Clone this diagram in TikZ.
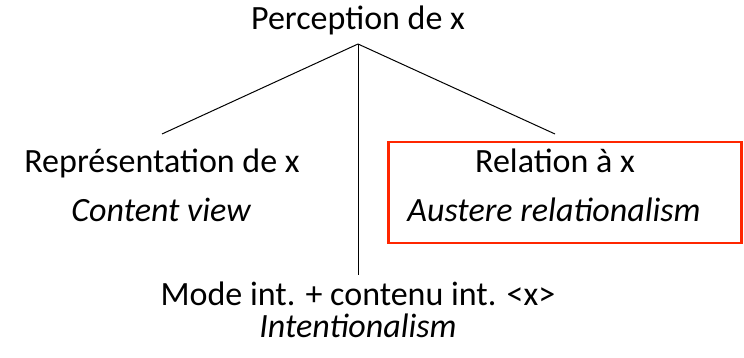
\documentclass[tikz,border=0pt]{standalone}
\usepackage{fontspec}
\setmainfont{Carlito}
\definecolor{boxred}{RGB}{255,38,0}
\begin{document}
\begin{tikzpicture}[x=1pt,y=-1pt,
  txt/.style={anchor=base, inner sep=0pt, font=\fontsize{34}{40}\selectfont},
  itxt/.style={txt, font=\fontsize{34}{40}\selectfont\itshape}]
\useasboundingbox (0,0) rectangle (744,358);
\node[draw=boxred, line width=2.6pt, minimum width=353pt, minimum height=101pt, inner sep=0pt] (box) at (565,192.5) {};

\node[txt] (perc) at (358,30) {Perception de x};
\node[txt] (repr) at (162,173) {Représentation de x};
\node[itxt] (cont) at (161,222) {Content view};
\node[txt] (rel) at (555,173) {Relation à x};
\node[itxt] (aust) at (554,222) {Austere relationalism};
\node[txt] (mode) at (358,305) {Mode int. + contenu int. <x>};
\node[itxt] (intent) at (358,337) {Intentionalism};

\coordinate (top) at (358,44);
\coordinate (l) at (162,134);
\coordinate (r) at (555,134);
\coordinate (b) at (358,275);

\path[draw,line width=1pt,-] (top) -- (l);
\path[draw,line width=1pt,-] (top) -- (r);
\path[draw,line width=1pt,-] (top) -- (b);
\end{tikzpicture}
\end{document}
